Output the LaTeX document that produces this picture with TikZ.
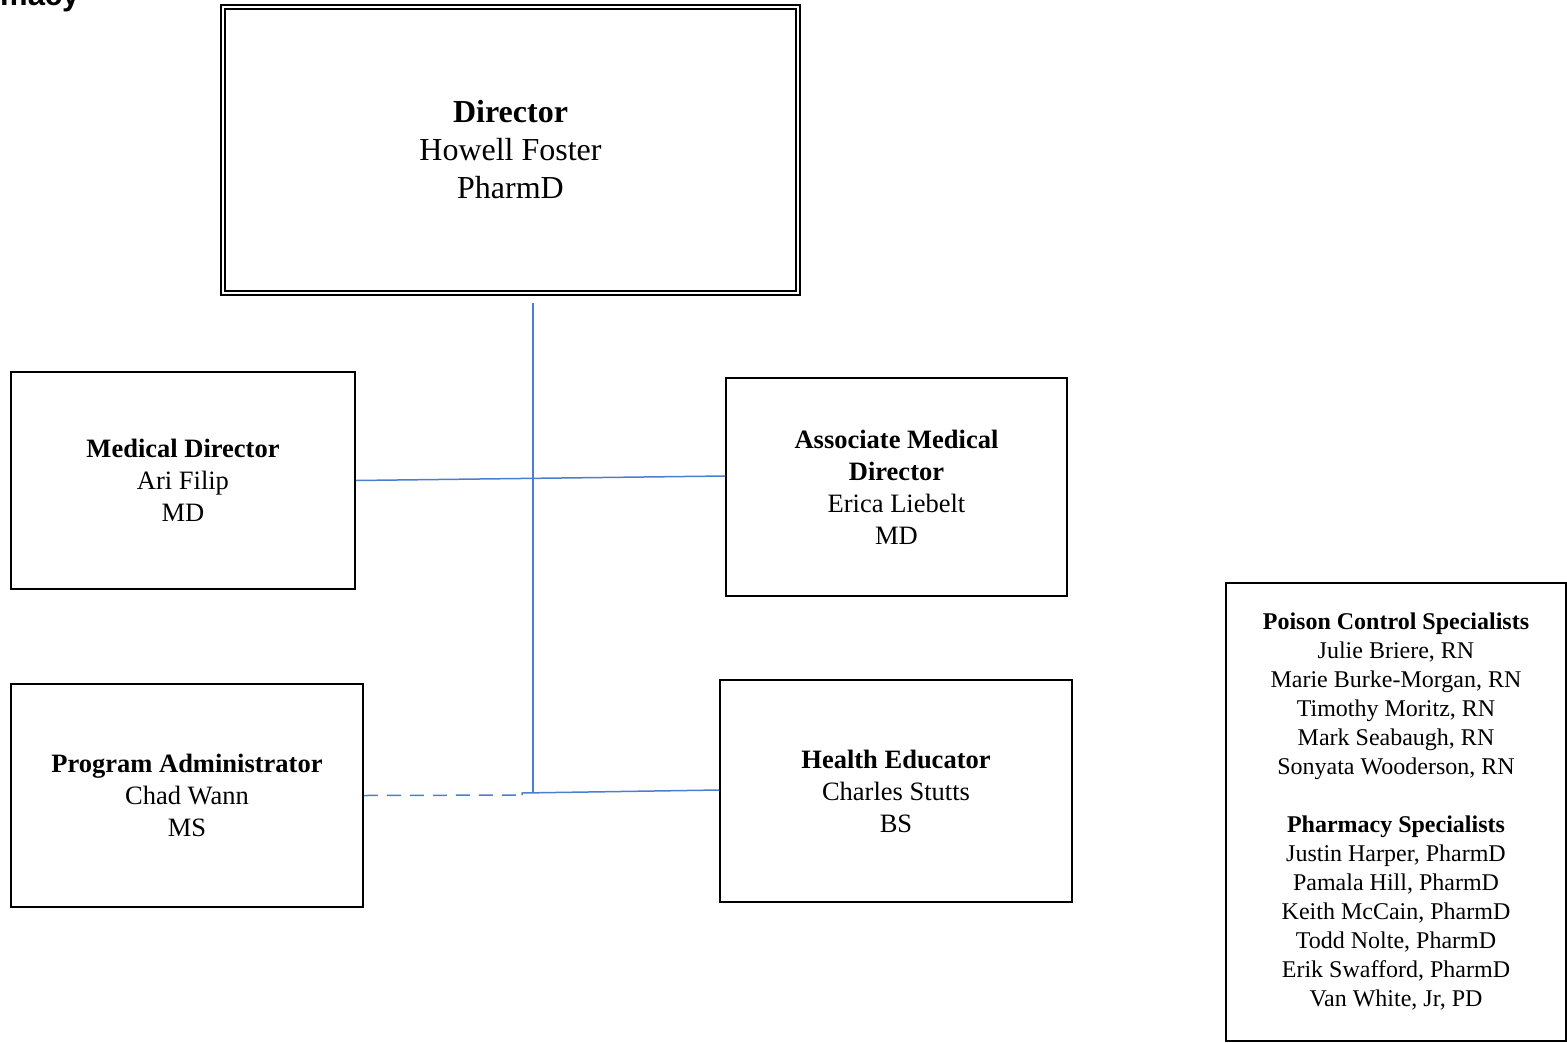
\documentclass[tikz,border=0pt]{standalone}
\usepackage{fontspec}
\setmainfont{Liberation Serif}
\newfontfamily\hdrfont{Liberation Sans}
\definecolor{linkblue}{RGB}{74,126,206}
\begin{document}
\begin{tikzpicture}[x=1pt,y=-1pt,
  box/.style={draw=black,line width=1.5pt,rectangle,align=center,inner sep=0pt},
  bigtxt/.style={font=\fontsize{32}{38}\selectfont},
  midtxt/.style={font=\fontsize{26.5}{32}\selectfont},
  smalltxt/.style={font=\fontsize{24}{29}\selectfont},
  link/.style={draw=linkblue,line width=1.5pt}]
\useasboundingbox (0,0) rectangle (1567,1042);
\node[anchor=base west,font=\hdrfont\bfseries\fontsize{31}{34}\selectfont,inner sep=0pt] (hdr) at (0,5) {macy};
% Director
\node[box,line width=2pt,minimum width=579pt,minimum height=290pt,bigtxt] (dir) at (510.5,150)
  {\textbf{Director}\\Howell Foster\\PharmD};
\draw[line width=1.2pt] ([shift={(5pt,-5pt)}]dir.north west) rectangle ([shift={(-5pt,5pt)}]dir.south east);
% Level boxes
\node[box,minimum width=344pt,minimum height=217pt,midtxt] (md) at (183,480.5)
  {\textbf{Medical Director}\\Ari Filip\\MD};
\node[box,minimum width=341pt,minimum height=218pt,midtxt] (amd) at (896.5,487)
  {\textbf{Associate Medical}\\\textbf{Director}\\Erica Liebelt\\MD};
\node[box,minimum width=352pt,minimum height=223pt,midtxt] (pa) at (187,795.5)
  {\textbf{Program Administrator}\\Chad Wann\\MS};
\node[box,minimum width=352pt,minimum height=222pt,midtxt] (he) at (896,791)
  {\textbf{Health Educator}\\Charles Stutts\\BS};
\node[box,minimum width=340pt,minimum height=458pt,smalltxt] (spec) at (1396,812)
  {\textbf{Poison Control Specialists}\\Julie Briere, RN\\Marie Burke-Morgan, RN\\Timothy Moritz, RN\\Mark Seabaugh, RN\\Sonyata Wooderson, RN\\[29pt]
   \textbf{Pharmacy Specialists}\\Justin Harper, PharmD\\Pamala Hill, PharmD\\Keith McCain, PharmD\\Todd Nolte, PharmD\\Erik Swafford, PharmD\\Van White, Jr, PD};
% Connectors
\coordinate (vtop) at (533,303);
\coordinate (vbot) at (533,793);
\coordinate (jn) at (522,795);
\draw[link] (vtop) -- (vbot);
\draw[link] (md.east) -- ([yshift=11pt]amd.west);
\draw[link,dashed,dash pattern=on 14pt off 9pt] (pa.east) -- (jn);
\draw[link] (jn) -- ++(0,-2) -- ([yshift=1pt]he.west);
\end{tikzpicture}
\end{document}
